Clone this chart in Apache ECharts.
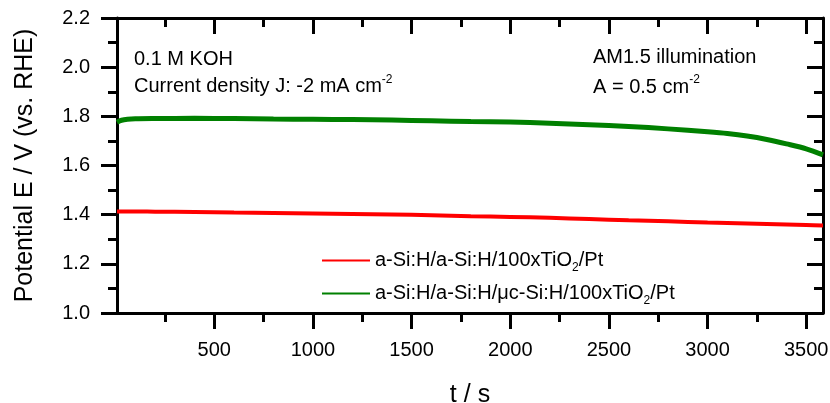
<!DOCTYPE html>
<html>
<head>
<meta charset="utf-8">
<script src="https://cdn.jsdelivr.net/npm/echarts@6/dist/echarts.min.js"></script>
<style>
	html, body { margin: 0; padding: 0; background: #fff; }
	#chart { width: 830px; height: 403px; }
</style>
</head>
<body>
<div id="chart"></div>
<script>
	// time axis (s) and potentials (V vs. RHE)
	const timeS = [7, 30, 60, 100, 200, 400, 600, 800, 1000, 1200, 1400, 1600, 1800, 2000,
		2200, 2400, 2600, 2800, 3000, 3100, 3200, 3300, 3400, 3500, 3585]
	const redV = [1.413, 1.413, 1.413, 1.413, 1.412, 1.411, 1.409, 1.407, 1.405, 1.403, 1.401, 1.398, 1.394, 1.391,
		1.387, 1.382, 1.377, 1.373, 1.368, 1.366, 1.364, 1.362, 1.360, 1.358, 1.356]
	const greenV = [1.776, 1.784, 1.788, 1.790, 1.791, 1.792, 1.791, 1.789, 1.788, 1.787, 1.785, 1.782, 1.779, 1.777,
		1.772, 1.766, 1.759, 1.749, 1.737, 1.730, 1.720, 1.706, 1.688, 1.668, 1.643]

	const redName = 'a-Si:H/a-Si:H/100xTiO2/Pt'
	const greenName = 'a-Si:H/a-Si:H/μc-Si:H/100xTiO2/Pt'

	const xMin = 7
	const xMax = 3585
	const xMajor = [500, 1000, 1500, 2000, 2500, 3000, 3500]
	const xMinor = [250, 750, 1250, 1750, 2250, 2750, 3250]
	const yMin = 1.0
	const yMax = 2.2
	const yStep = 0.2

	const FONT = 'Liberation Sans, Arial, sans-serif'
	const BLACK = '#000'

	const toPairs = (xs, ys) => xs.map((x, i) => [x, ys[i]])

	// one x axis per tick set, top and bottom
	const xAxisOf = (pos, ticks, len, extra) => Object.assign({
		type: 'value',
		position: pos,
		min: xMin,
		max: xMax,
		axisLine: { show: true, onZero: false, lineStyle: { color: BLACK, width: 3 } },
		axisTick: { show: true, inside: pos === 'top', length: len, customValues: ticks,
			lineStyle: { color: BLACK, width: 3 } },
		axisLabel: { show: false },
		splitLine: { show: false }
	}, extra || {})

	const yAxisOf = (pos, extra) => Object.assign({
		type: 'value',
		position: pos,
		min: yMin,
		max: yMax,
		interval: yStep,
		axisLine: { show: true, onZero: false, lineStyle: { color: BLACK, width: 3 } },
		axisTick: { show: true, inside: pos === 'right', length: 16, lineStyle: { color: BLACK, width: 3 } },
		minorTick: { show: true, splitNumber: 2, length: 9, lineStyle: { color: BLACK, width: 3 } },
		axisLabel: { show: false },
		splitLine: { show: false },
		minorSplitLine: { show: false }
	}, extra || {})

	// legend label with the subscript 2
	const legendFmt = name => {
		const parts = name.split('TiO2')
		return '{n|' + parts[0] + 'TiO}{s|2}{n|' + parts[1] + '}'
	}
	const legendRich = {
		n: { fontSize: 20, lineHeight: 24, fontFamily: FONT, color: BLACK },
		s: { fontSize: 12, lineHeight: 24, fontFamily: FONT, color: BLACK, padding: [15, 0, 0, 0] }
	}
	const legendOf = (name, top) => ({
		data: [{ name: name, icon: 'rect' }],
		left: 322,
		top: top,
		padding: 0,
		itemWidth: 48,
		itemHeight: 2,
		selectedMode: false,
		formatter: legendFmt,
		textStyle: { fontSize: 20, fontFamily: FONT, color: BLACK, rich: legendRich }
	})

	const noteRich = {
		sup: { fontSize: 12, lineHeight: 24, fontFamily: FONT, fill: BLACK, padding: [0, 0, 14, 0] }
	}
	const note = (x, y, text) => ({
		type: 'text',
		x: x,
		y: y,
		silent: true,
		style: {
			text: text,
			fill: BLACK,
			fontSize: 20,
			fontFamily: FONT,
			lineHeight: 24,
			align: 'left',
			verticalAlign: 'middle',
			rich: noteRich
		}
	})

	const myChart = echarts.init(document.getElementById('chart'))

	const option = {
		animation: false,
		backgroundColor: '#fff',
		textStyle: { fontFamily: FONT },
		grid: { left: 117, right: 7, top: 18, bottom: 90, containLabel: false, outerBoundsMode: 'none' },
		legend: [legendOf(redName, 247), legendOf(greenName, 280)],
		xAxis: [
			xAxisOf('bottom', xMajor, 16, {
				axisLabel: { show: true, customValues: xMajor, fontSize: 20, margin: 27, color: BLACK, fontFamily: FONT,
					formatter: v => String(v) },
				name: 't / s',
				nameLocation: 'middle',
				nameGap: 70,
				nameTextStyle: { fontSize: 25, color: BLACK, fontFamily: FONT }
			}),
			xAxisOf('bottom', xMinor, 9, { axisLine: { show: false } }),
			xAxisOf('top', xMajor, 16),
			xAxisOf('top', xMinor, 9, { axisLine: { show: false } })
		],
		yAxis: [
			yAxisOf('left', {
				axisLabel: { show: true, fontSize: 20, margin: 27, color: BLACK, fontFamily: FONT,
					formatter: v => v.toFixed(1) },
				name: 'Potential E / V (vs. RHE)',
				nameLocation: 'middle',
				nameGap: 79,
				nameTextStyle: { fontSize: 25, color: BLACK, fontFamily: FONT }
			}),
			yAxisOf('right')
		],
		graphic: [
			note(134, 59.7, '0.1 M KOH'),
			note(134, 86.3, 'Current density J: -2 mA cm{sup|-2}'),
			note(593, 57, 'AM1.5 illumination'),
			note(593, 87, 'A = 0.5 cm{sup|-2}')
		],
		series: [
			{
				name: redName,
				type: 'line',
				xAxisIndex: 0,
				yAxisIndex: 0,
				data: toPairs(timeS, redV),
				symbol: 'none',
				smooth: 0.3,
				lineStyle: { color: '#ff0000', width: 4 },
				itemStyle: { color: '#ff0000' }
			},
			{
				name: greenName,
				type: 'line',
				xAxisIndex: 0,
				yAxisIndex: 0,
				data: toPairs(timeS, greenV),
				symbol: 'none',
				smooth: 0.3,
				lineStyle: { color: '#008000', width: 5 },
				itemStyle: { color: '#008000' }
			}
		]
	}

	myChart.setOption(option)
</script>
</body>
</html>
